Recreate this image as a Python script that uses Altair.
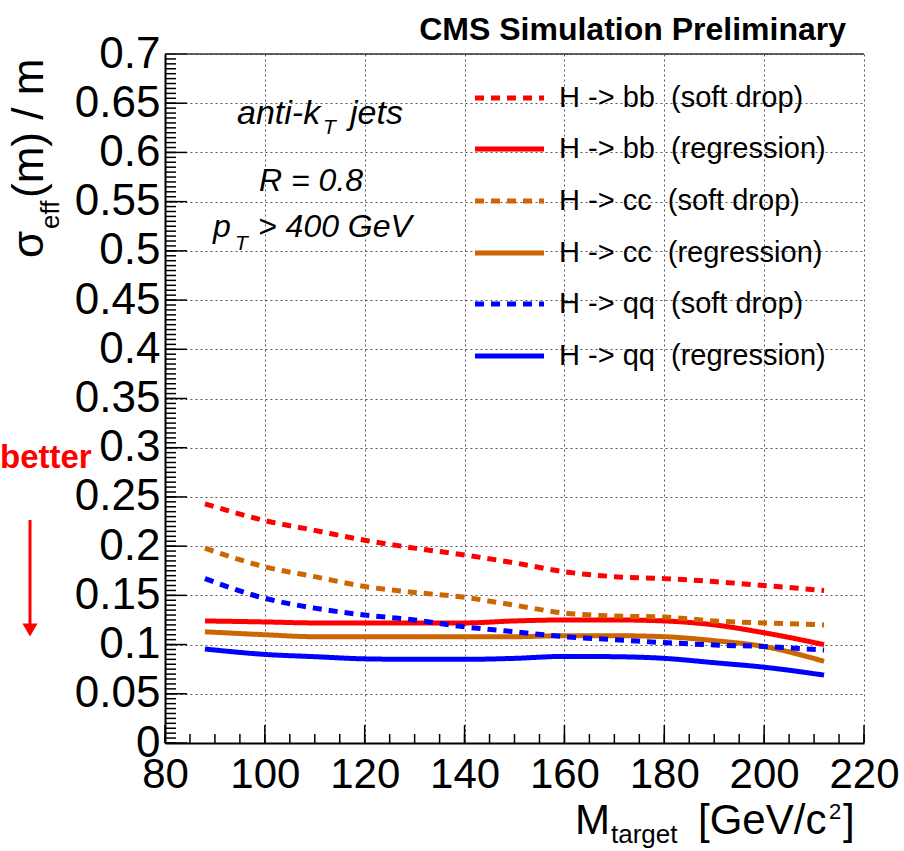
import altair as alt
import pandas as pd

# ---------------- data ----------------
mass = [88, 100, 110, 120, 130, 140, 150, 160, 170, 180, 190, 200, 212]
bb_softdrop = [0.243, 0.226, 0.216, 0.206, 0.198, 0.191, 0.183, 0.174, 0.169, 0.167, 0.164, 0.160, 0.155]
bb_regression = [0.124, 0.123, 0.122, 0.122, 0.122, 0.122, 0.124, 0.125, 0.125, 0.124, 0.120, 0.112, 0.100]
cc_softdrop = [0.198, 0.179, 0.169, 0.159, 0.153, 0.148, 0.140, 0.132, 0.129, 0.128, 0.124, 0.122, 0.120]
cc_regression = [0.113, 0.110, 0.108, 0.108, 0.108, 0.108, 0.108, 0.109, 0.109, 0.108, 0.104, 0.098, 0.083]
qq_softdrop = [0.167, 0.147, 0.137, 0.130, 0.125, 0.118, 0.113, 0.108, 0.105, 0.102, 0.0996, 0.098, 0.0945]
qq_regression = [0.0955, 0.090, 0.0877, 0.0855, 0.085, 0.085, 0.086, 0.088, 0.0877, 0.086, 0.0816, 0.077, 0.069]

series_names = [
    "H -> bb\u00a0 (soft drop)",
    "H -> bb\u00a0 (regression)",
    "H -> cc\u00a0 (soft drop)",
    "H -> cc\u00a0 (regression)",
    "H -> qq\u00a0 (soft drop)",
    "H -> qq\u00a0 (regression)",
]
series_values = [bb_softdrop, bb_regression, cc_softdrop, cc_regression, qq_softdrop, qq_regression]
series_colors = ["#ff0000", "#ff0000", "#cc6600", "#cc6600", "#0000ff", "#0000ff"]
series_dashes = [[9, 7], [1, 0], [9, 7], [1, 0], [9, 7], [1, 0]]

x_major = [80, 100, 120, 140, 160, 180, 200, 220]
y_major = [0, 0.05, 0.1, 0.15, 0.2, 0.25, 0.3, 0.35, 0.4, 0.45, 0.5, 0.55, 0.6, 0.65, 0.7]
x_minor = list(range(80, 221, 5))
y_minor = [round(i * 0.005, 3) for i in range(141)]

rows = []
for name, vals in zip(series_names, series_values):
    for m, v in zip(mass, vals):
        rows.append({"series": name, "mass": m, "sigma": v})
df = pd.DataFrame(rows)

# ---------------- layout ----------------
W, H = 699, 689
FONT = "Liberation Sans"

x_scale = alt.Scale(domain=[80, 220], nice=False, zero=False)
y_scale = alt.Scale(domain=[0, 0.7], nice=False, zero=True)

grid_kw = dict(grid=True, gridDash=[2, 3], gridColor="#555555", gridWidth=1)
x_axis = alt.Axis(values=x_major, title=None, labelFontSize=42, labelFont=FONT,
                  labelColor="black", ticks=False, domainColor="black", domainWidth=2,
                  labelPadding=11, labelFlush=False, labelOverlap=False, **grid_kw)
y_axis = alt.Axis(values=y_major, format="~g", title=None, labelFontSize=44, labelFont=FONT,
                  labelColor="black", ticks=False, domainColor="black", domainWidth=2,
                  labelPadding=5, labelFlush=False, labelOverlap=False, **grid_kw)

lines = alt.Chart(df).mark_line(strokeWidth=5, interpolate="monotone").encode(
    x=alt.X("mass:Q", scale=x_scale, axis=x_axis),
    y=alt.Y("sigma:Q", scale=y_scale, axis=y_axis),
    color=alt.Color("series:N", scale=alt.Scale(domain=series_names, range=series_colors), legend=None),
    strokeDash=alt.StrokeDash("series:N", scale=alt.Scale(domain=series_names, range=series_dashes),
                              legend=None),
)

layers = []

# inside ticks
def xticks(vals, length):
    return alt.Chart(pd.DataFrame({"mass": vals})).mark_rule(color="black", strokeWidth=1.5).encode(
        x=alt.X("mass:Q", scale=x_scale, axis=x_axis), y=alt.value(H), y2=alt.value(H - length))

def yticks(vals, length):
    return alt.Chart(pd.DataFrame({"sigma": vals})).mark_rule(color="black", strokeWidth=1.5).encode(
        y=alt.Y("sigma:Q", scale=y_scale, axis=y_axis), x=alt.value(0), x2=alt.value(length))

layers += [xticks(x_minor, 9), xticks(x_major, 18), yticks(y_minor, 11), yticks(y_major, 22)]

# top frame
layers.append(alt.Chart(pd.DataFrame({"a": [0]})).mark_rule(color="#333333", strokeWidth=1.5).encode(
    x=alt.value(0), x2=alt.value(W), y=alt.value(0)))


def txt(text, x, y, size, italic=False, bold=False, color="black", align="left",
        baseline="alphabetic", angle=0):
    kw = dict(font=FONT, fontSize=size, color=color, align=align, baseline=baseline)
    if italic:
        kw["fontStyle"] = "italic"
    if bold:
        kw["fontWeight"] = "bold"
    if angle:
        kw["angle"] = angle
    return alt.Chart(pd.DataFrame({"t": [text]})).mark_text(**kw).encode(
        text="t:N", x=alt.value(x), y=alt.value(y))

# header
layers.append(txt("CMS Simulation Preliminary", 681, -14, 32, bold=True, align="right"))

# annotations
layers.append(txt("anti-k", 72, 70, 34, italic=True))
layers.append(txt("T", 158, 80, 21, italic=True))
layers.append(txt("jets", 185, 70, 34, italic=True))
layers.append(txt("R = 0.8", 94, 137, 32, italic=True))
layers.append(txt("p", 48, 183, 32, italic=True))
layers.append(txt("T", 70, 196, 21, italic=True))
layers.append(txt("> 400 GeV", 93, 183, 32, italic=True))

# legend
legend_y = [44, 95, 147, 199, 250, 302]
for name, color, dash, ly in zip(series_names, series_colors, series_dashes, legend_y):
    rk = dict(color=color, strokeWidth=5)
    if dash != [1, 0]:
        rk["strokeDash"] = dash
    layers.append(alt.Chart(pd.DataFrame({"a": [0]})).mark_rule(**rk).encode(
        x=alt.value(310), x2=alt.value(379), y=alt.value(ly)))
    layers.append(txt(name, 394, ly, 29, baseline="middle"))

# y title (rotated)
layers.append(txt("\u03c3", -122, 204, 44, angle=270))
layers.append(txt("eff", -106, 175, 26, angle=270))
layers.append(txt("(m) / m", -122, 144, 44, angle=270))

# x title
layers.append(txt("M", 410, 780, 42))
layers.append(txt("target", 446, 789, 26))
layers.append(txt("[GeV/c", 533, 780, 42))
layers.append(txt("2", 664, 765, 22))
layers.append(txt("]", 678, 780, 42))

# "better" arrow
layers.append(txt("better", -165, 414, 33, bold=True, color="#ff0000"))
layers.append(alt.Chart(pd.DataFrame({"a": [0]})).mark_rule(color="#ff0000", strokeWidth=3).encode(
    x=alt.value(-135), y=alt.value(466), y2=alt.value(570)))
layers.append(alt.Chart(pd.DataFrame({"a": [0]})).mark_point(
    shape="triangle-down", filled=True, size=230, color="#ff0000", opacity=1).encode(
    x=alt.value(-135), y=alt.value(576)))

chart = alt.layer(lines, *layers).properties(
    width=W, height=H,
    autosize=alt.AutoSizeParams(type="none"),
    padding={"left": 165, "top": 54, "right": 40, "bottom": 108},
    background="white",
).configure_view(stroke=None)

chart.save("out.html", embed_options={"renderer": "svg", "actions": False})
